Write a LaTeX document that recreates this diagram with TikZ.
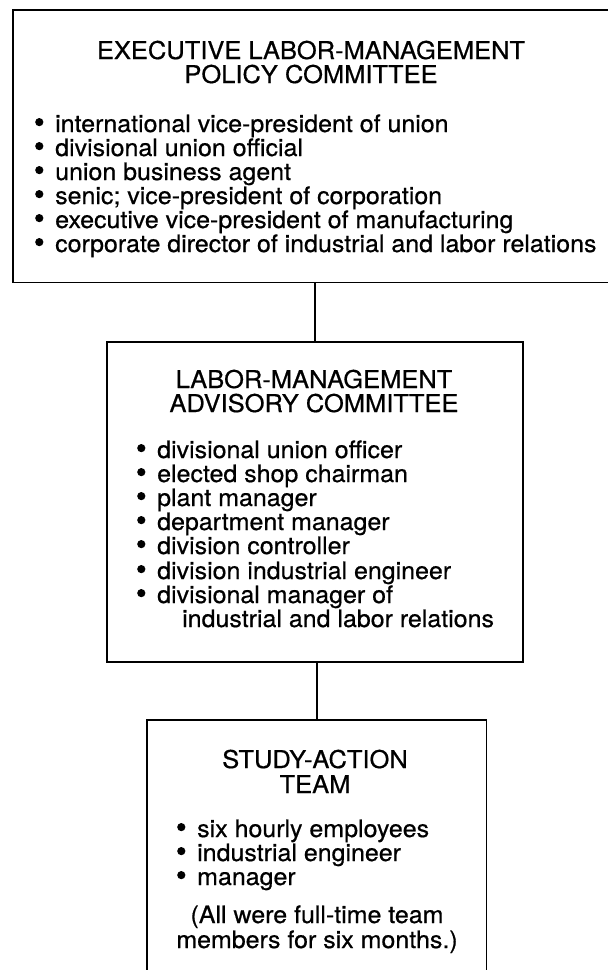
\documentclass[tikz,border=0pt]{standalone}
\usepackage{fontspec}
\setmainfont{TeX Gyre Heros}[FakeStretch=1.04, FakeBold=0.6]
\newcommand\bul{\makebox[20pt][l]{\raisebox{5.8pt}{\tikz\fill (0,0) circle (4.1pt);}}}
\begin{document}
\begin{tikzpicture}[x=1pt,y=-1pt,
  boxline/.style={line width=1.6pt, black},
  conn/.style={line width=2.4pt, black},
  frame/.style={draw=none, rectangle, inner sep=0},
  ttl/.style={font=\fontsize{24.5}{24}\selectfont, inner sep=0, anchor=base},
  itm/.style={font=\fontsize{24}{24}\selectfont, inner sep=0, anchor=base west}]
\useasboundingbox (0,0) rectangle (608,970);
% frames
\node[frame, minimum width=620pt, minimum height=272pt, anchor=north west] (top) at (13,10) {};
\node[frame, draw, boxline, minimum width=416pt, minimum height=320pt, anchor=north west] (mid) at (106,341) {};
\node[frame, minimum width=339pt, minimum height=270pt, anchor=north west] (bot) at (147,720) {};
\draw[boxline] (top.north east) -- (top.north west) -- (top.south west) -- (top.south east);
\draw[boxline] (bot.south west) -- (bot.north west) -- (bot.north east) -- (bot.south east);
% connectors
\draw[conn] (mid.north |- top.south) -- (mid.north);
\draw[conn] (mid.south -| bot.north) -- (bot.north);
% top box text
\node[ttl] (t0a) at (311,59) {EXECUTIVE LABOR-MANAGEMENT};
\node[ttl] (t0b) at (311,83) {POLICY COMMITTEE};
\node[itm] (t1) at (35,132) {\bul international vice-president of union};
\node[itm] (t2) at (35,156) {\bul divisional union official};
\node[itm] (t3) at (35,180) {\bul union business agent};
\node[itm] (t4) at (35,204) {\bul senic; vice-president of corporation};
\node[itm] (t5) at (35,228) {\bul executive vice-president of manufacturing};
\node[itm] (t6) at (35,252) {\bul corporate director of industrial and labor relations};
% middle box text
\node[ttl] (m0a) at (314,388) {LABOR-MANAGEMENT};
\node[ttl] (m0b) at (314,412) {ADVISORY COMMITTEE};
\node[itm] (m1) at (137,458) {\bul divisional union officer};
\node[itm] (m2) at (137,482) {\bul elected shop chairman};
\node[itm] (m3) at (137,506) {\bul plant manager};
\node[itm] (m4) at (137,530) {\bul department manager};
\node[itm] (m5) at (137,554) {\bul division controller};
\node[itm] (m6) at (137,579) {\bul division industrial engineer};
\node[itm] (m7) at (137,603) {\bul divisional manager of};
\node[itm] (m8) at (182,627) {industrial and labor relations};
% bottom box text
\node[ttl] (b0a) at (315,768) {STUDY-ACTION};
\node[ttl] (b0b) at (315,793) {TEAM};
\node[itm] (b1) at (177,837) {\bul six hourly employees};
\node[itm] (b2) at (177,861) {\bul industrial engineer};
\node[itm] (b3) at (177,885) {\bul manager};
\node[ttl, font=\fontsize{24}{24}\selectfont] (b4) at (317,923) {(All were full-time team};
\node[ttl, font=\fontsize{24}{24}\selectfont] (b5) at (317,948) {members for six months.)};
\end{tikzpicture}
\end{document}
